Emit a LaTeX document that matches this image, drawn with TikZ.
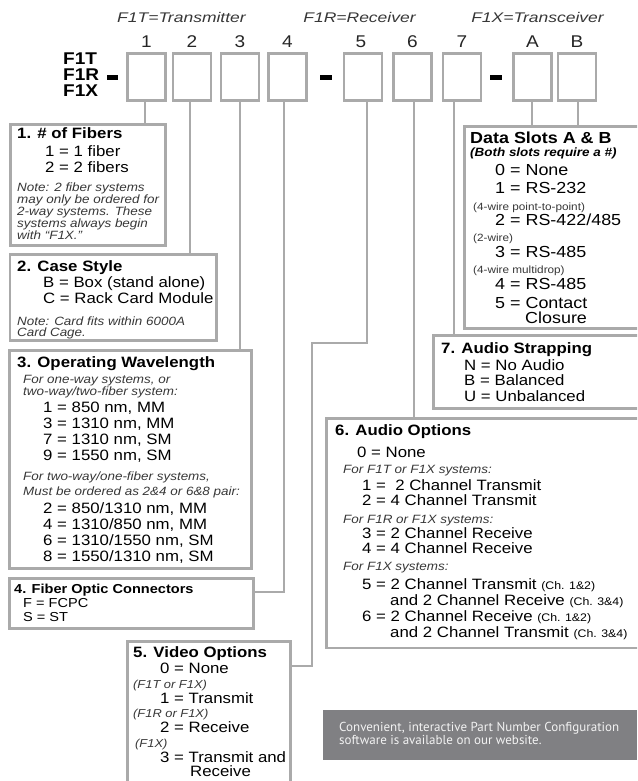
\documentclass[tikz,border=0pt]{standalone}
\usepackage{fontspec}
\setmainfont{Liberation Sans}[FakeStretch=1.12]
\newfontfamily\topfont{Liberation Sans}[FakeStretch=1.25]
\newfontfamily\webfont{PT Sans}
\usetikzlibrary{fit}
\definecolor{boxgray}{RGB}{170,170,170}
\definecolor{notegray}{RGB}{55,55,55}
\definecolor{panelgray}{RGB}{128,128,131}
\definecolor{webtext}{RGB}{242,242,242}
\newcommand\tx[5]{\node[#4] (#1) at (#2,#3) {#5};}
\tikzset{
  slot/.style={draw=boxgray, line width=2.6pt, minimum width=38pt, minimum height=47pt, inner sep=0pt},
  secbox/.style={draw=boxgray, line width=2.6pt, inner sep=0pt},
  conn/.style={draw=boxgray, line width=2.6pt},
  dashmark/.style={draw=black, line width=4.5pt},
  lbl/.style={anchor=base west, inner sep=0pt, text=black},
  hd/.style={lbl, font=\fontsize{15}{15}\selectfont\bfseries},
  bd/.style={lbl, font=\fontsize{15}{15}\selectfont},
  nt/.style={lbl, font=\fontsize{12}{12}\selectfont\itshape, text=notegray},
  sm/.style={lbl, font=\fontsize{11.5}{11.5}\selectfont\itshape, text=notegray},
  hdf/.style={lbl, font=\fontsize{13}{13}\selectfont\bfseries},
  bdf/.style={lbl, font=\fontsize{13}{13}\selectfont},
  hdd/.style={lbl, font=\fontsize{16}{16}\selectfont\bfseries},
  bdd/.style={lbl, font=\fontsize{16}{16}\selectfont},
  bid/.style={lbl, font=\fontsize{12}{12}\selectfont\bfseries\itshape},
  tyd/.style={lbl, font=\fontsize{10.5}{10.5}\selectfont, text=notegray},
  toplbl/.style={anchor=base, inner sep=0pt, text=notegray, font=\topfont\fontsize{14}{14}\selectfont\itshape},
  numlbl/.style={anchor=base, inner sep=0pt, text=black!85, font=\fontsize{17}{17}\selectfont},
  pfxlbl/.style={lbl, font=\fontsize{17}{17}\selectfont\bfseries},
  panelbox/.style={fill=panelgray, inner sep=0pt, anchor=north west, minimum width=314pt, minimum height=50pt},
  weblbl/.style={lbl, text=webtext, font=\webfont\fontsize{13}{13}\selectfont},
}
\begin{document}
\begin{tikzpicture}[x=1pt,y=-1pt]
\path[use as bounding box] (0,0) rectangle (637,781);
\clip (0,0) rectangle (637,781);

% top captions
\node[toplbl] (capT) at (181.5,23) {F1T=Transmitter};
\node[toplbl] (capR) at (359.5,23) {F1R=Receiver};
\node[toplbl] (capX) at (537.5,23) {F1X=Transceiver};

% prefix
\tx{pT}{63}{65}{pfxlbl}{F1T}
\tx{pR}{63}{81}{pfxlbl}{F1R}
\tx{pX}{63}{97}{pfxlbl}{F1X}

% slots
\node[slot] (b1) at (146.5,77) {};
\node[slot] (b2) at (192,77) {};
\node[slot] (b3) at (240,77) {};
\node[slot] (b4) at (287.5,77) {};
\node[slot] (b5) at (363,77) {};
\node[slot] (b6) at (412.5,77) {};
\node[slot] (b7) at (462,77) {};
\node[slot] (bA) at (532.5,77) {};
\node[slot] (bB) at (577,77) {};

\node[numlbl] (n1) at (146.5,48) {1};
\node[numlbl] (n2) at (192,48) {2};
\node[numlbl] (n3) at (240,48) {3};
\node[numlbl] (n4) at (287.5,48) {4};
\node[numlbl] (n5) at (361,48) {5};
\node[numlbl] (n6) at (412.5,48) {6};
\node[numlbl] (n7) at (462,48) {7};
\node[numlbl] (nA) at (532.5,48) {A};
\node[numlbl] (nB) at (577,48) {B};

% dashes
\draw[dashmark] (107,77.5) -- (118,77.5);
\draw[dashmark] (320,77.5) -- (332,77.5);
\draw[dashmark] (490,77.5) -- (502,77.5);

% section boxes
\node[secbox, fit={(10.5,124.5) (165.5,245.5)}] (s1) {};
\node[secbox, fit={(10,254.5) (216.5,340.5)}] (s2) {};
\node[secbox, fit={(9.5,350.5) (251.5,568.5)}] (s3) {};
\node[secbox, fit={(9.5,578.5) (253.5,628.5)}] (s4) {};
\node[secbox, fit={(127.5,641.5) (290.5,800)}] (s5) {};
\node[secbox, fit={(326.5,418.5) (660,648)}] (s6) {};
\node[secbox, fit={(433.5,335.5) (660,408.5)}] (s7) {};
\node[secbox, fit={(464.5,126.5) (660,328.5)}] (sD) {};

% connectors
\draw[conn] ([xshift=-1.5pt]b1.south) -- ([xshift=-1.5pt]b1.south |- s1.north);
\draw[conn] ([xshift=-2pt]b2.south) -- ([xshift=-2pt]b2.south |- s2.north);
\draw[conn] (b3.south) -- (b3.south |- s3.north);
\coordinate (j4) at (284,592);
\draw[conn] (b4.south -| j4) -- (j4) -- (j4 -| s4.east);
\coordinate (j5a) at (367,343);
\coordinate (j5b) at (312,343);
\coordinate (j5c) at (312,666);
\draw[conn] (b5.south -| j5a) -- (j5a) -- (j5b) -- (j5c) -- (j5c -| s5.east);
\draw[conn] ([xshift=1.5pt]b6.south) -- ([xshift=1.5pt]b6.south |- s6.north);
\draw[conn] ([xshift=-8pt]b7.south) -- ([xshift=-8pt]b7.south |- s7.north);
\draw[conn] ([xshift=-0.5pt]bA.south) -- ([xshift=-0.5pt]bA.south |- sD.north);
\draw[conn] ([xshift=1pt]bB.south) -- ([xshift=1pt]bB.south |- sD.north);

% box 1
\tx{t1a}{17}{139}{hd}{1. \# of Fibers}
\tx{t1b}{45}{157}{bd}{1 = 1 fiber}
\tx{t1c}{45}{172}{bd}{2 = 2 fibers}
\tx{t1d}{17}{191}{nt}{Note: 2 fiber systems}
\tx{t1e}{17}{203}{nt}{may only be ordered for}
\tx{t1f}{17}{215}{nt}{2-way systems. These}
\tx{t1g}{17}{227}{nt}{systems always begin}
\tx{t1h}{17}{239}{nt}{with “F1X.”}

% box 2
\tx{t2a}{17}{271}{hd}{2. Case Style}
\tx{t2b}{43}{287}{bd}{B = Box (stand alone)}
\tx{t2c}{43}{303}{bd}{C = Rack Card Module}
\tx{t2d}{17}{325}{nt}{Note: Card fits within 6000A}
\tx{t2e}{17}{336}{nt}{Card Cage.}

% box 3
\tx{t3a}{17}{367}{hd}{3. Operating Wavelength}
\tx{t3b}{23}{383}{nt}{For one-way systems, or}
\tx{t3c}{23}{395}{nt}{two-way/two-fiber system:}
\tx{t3d}{43}{412}{bd}{1 = 850 nm, MM}
\tx{t3e}{43}{428}{bd}{3 = 1310 nm, MM}
\tx{t3f}{43}{444}{bd}{7 = 1310 nm, SM}
\tx{t3g}{43}{460}{bd}{9 = 1550 nm, SM}
\tx{t3h}{23}{480}{nt}{For two-way/one-fiber systems,}
\tx{t3i}{23}{495}{nt}{Must be ordered as 2\&4 or 6\&8 pair:}
\tx{t3j}{43}{513}{bd}{2 = 850/1310 nm, MM}
\tx{t3k}{43}{529}{bd}{4 = 1310/850 nm, MM}
\tx{t3l}{43}{545}{bd}{6 = 1310/1550 nm, SM}
\tx{t3m}{43}{561}{bd}{8 = 1550/1310 nm, SM}

% box 4
\tx{t4a}{14}{593}{hdf}{4. Fiber Optic Connectors}
\tx{t4b}{23}{607}{bdf}{F = FCPC}
\tx{t4c}{23}{621}{bdf}{S = ST}

% box 5
\tx{t5a}{133}{657}{hd}{5. Video Options}
\tx{t5b}{160}{673}{bd}{0 = None}
\tx{t5c}{133}{688}{sm}{(F1T or F1X)}
\tx{t5d}{160}{703}{bd}{1 = Transmit}
\tx{t5e}{133}{717}{sm}{(F1R or F1X)}
\tx{t5f}{160}{732}{bd}{2 = Receive}
\tx{t5g}{135}{747}{sm}{(F1X)}
\tx{t5h}{160}{762}{bd}{3 = Transmit and}
\tx{t5i}{190}{776}{bd}{Receive}

% box 6
\tx{t6a}{335}{435}{hd}{6. Audio Options}
\tx{t6b}{357}{457}{bd}{0 = None}
\tx{t6c}{343}{473}{nt}{For F1T or F1X systems:}
\tx{t6d}{362}{490}{bd}{1 = \ 2 Channel Transmit}
\tx{t6e}{362}{505}{bd}{2 = 4 Channel Transmit}
\tx{t6f}{343}{523}{nt}{For F1R or F1X systems:}
\tx{t6g}{362}{538}{bd}{3 = 2 Channel Receive}
\tx{t6h}{362}{553}{bd}{4 = 4 Channel Receive}
\tx{t6i}{343}{570}{nt}{For F1X systems:}
\tx{t6j}{362}{589}{bd}{5 = 2 Channel Transmit {\fontsize{11}{11}\selectfont(Ch. 1\&2)}}
\tx{t6k}{390}{605}{bd}{and 2 Channel Receive {\fontsize{11}{11}\selectfont(Ch. 3\&4)}}
\tx{t6l}{362}{621}{bd}{6 = 2 Channel Receive {\fontsize{11}{11}\selectfont(Ch. 1\&2)}}
\tx{t6m}{390}{637}{bd}{and 2 Channel Transmit {\fontsize{11}{11}\selectfont(Ch. 3\&4)}}

% box 7
\tx{t7a}{441}{353}{hd}{7. Audio Strapping}
\tx{t7b}{464}{370}{bd}{N = No Audio}
\tx{t7c}{464}{385}{bd}{B = Balanced}
\tx{t7d}{464}{401}{bd}{U = Unbalanced}

% data slots
\tx{tDa}{470}{143}{hdd}{Data Slots A \& B}
\tx{tDb}{470}{157}{bid}{(Both slots require a \#)}
\tx{tDc}{495}{175}{bdd}{0 = None}
\tx{tDd}{495}{193}{bdd}{1 = RS-232}
\tx{tDe}{473}{210}{tyd}{(4-wire point-to-point)}
\tx{tDf}{495}{225}{bdd}{2 = RS-422/485}
\tx{tDg}{473}{241}{tyd}{(2-wire)}
\tx{tDh}{495}{257}{bdd}{3 = RS-485}
\tx{tDi}{473}{273}{tyd}{(4-wire multidrop)}
\tx{tDj}{495}{289}{bdd}{4 = RS-485}
\tx{tDk}{495}{308}{bdd}{5 = Contact}
\tx{tDl}{525}{323}{bdd}{Closure}

% panel
\node[panelbox] (pnl) at (323,710) {};
\tx{w1}{339}{731}{weblbl}{Convenient, interactive Part Number Configuration}
\tx{w2}{339}{744}{weblbl}{software is available on our website.}
\end{tikzpicture}
\end{document}
